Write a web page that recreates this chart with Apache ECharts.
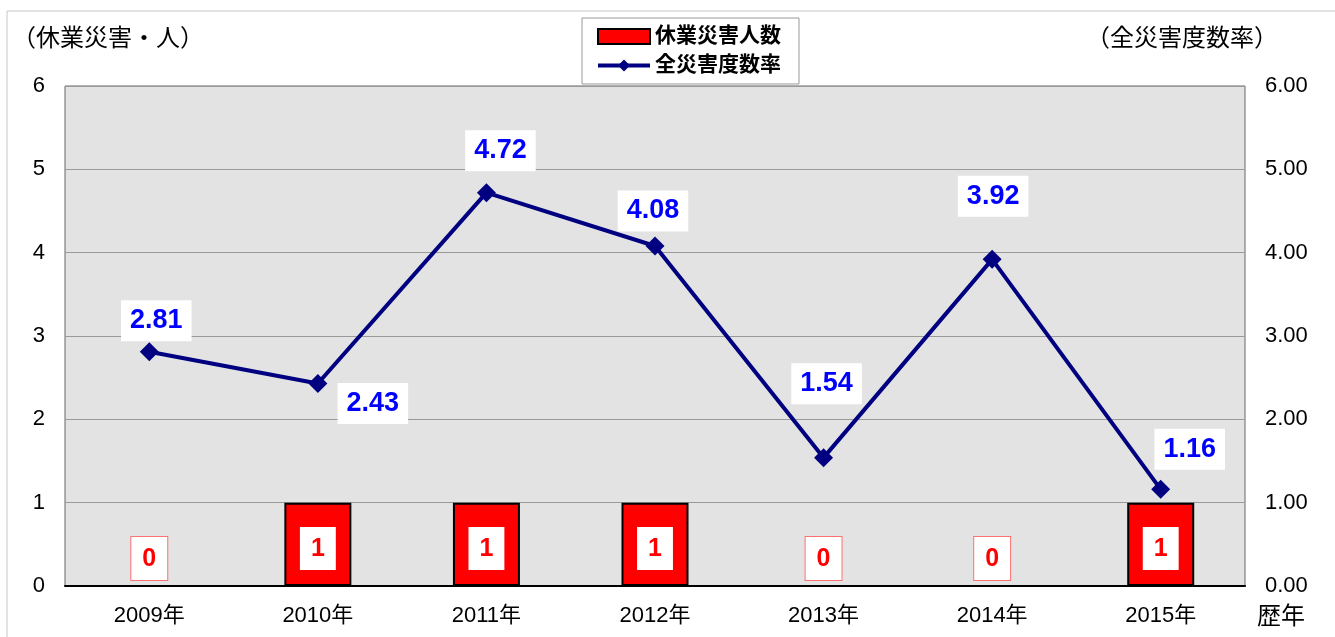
<!DOCTYPE html>
<html>
<head>
<meta charset="utf-8">
<script src="https://cdn.jsdelivr.net/npm/echarts@6/dist/echarts.min.js"></script>
<style>
  html, body { margin: 0; padding: 0; background: #fff; }
  #main { width: 1335px; height: 637px; }
</style>
</head>
<body>
<div id="main"></div>
<script>
// data
const years = ['2009年', '2010年', '2011年', '2012年', '2013年', '2014年', '2015年'];
const injuries = [0, 1, 1, 1, 0, 0, 1];          // 休業災害人数
const rates = [2.81, 2.43, 4.72, 4.08, 1.54, 3.92, 1.16];  // 全災害度数率
// where each rate label sits relative to its point [dx, dy]
const rateLabelOffsets = [[7, -31], [55, 20], [14, -42], [-2, -35], [3, -74], [1, -63], [29, -40]];

const font = "'Liberation Sans', 'Noto Sans CJK JP', sans-serif";

let barData = injuries.map(v => {
    if (v === 0) {
        return {
            value: v,
            label: {
                position: 'insideBottom', distance: 7,
                borderColor: '#ff7070', borderWidth: 1
            }
        };
    }
    return { value: v, label: { position: 'insideBottom', distance: 16 } };
});

let lineData = rates.map((v, i) => ({
    value: v,
    label: { offset: rateLabelOffsets[i] }
}));

const option = {
    animation: false,
    textStyle: { fontFamily: font },
    grid: {
        left: 65, right: 90, top: 86, bottom: 51,
        show: true,
        backgroundColor: '#e3e3e3',
        borderColor: '#666',
        borderWidth: 1
    },
    legend: {
        orient: 'vertical',
        left: 582, top: 18,
        width: 218,
        padding: [8, 18, 8, 14],
        itemGap: 8,
        itemWidth: 52, itemHeight: 15,
        backgroundColor: '#fff',
        borderColor: '#999', borderWidth: 1,
        textStyle: { fontSize: 21, fontWeight: 'bold', color: '#000', fontFamily: font },
        data: [
            { name: '休業災害人数', icon: 'rect', itemStyle: { color: '#ff0000', borderColor: '#000', borderWidth: 2 } },
            { name: '全災害度数率', lineStyle: { width: 4 } }
        ]
    },
    xAxis: {
        type: 'category',
        data: years,
        axisLine: { lineStyle: { color: '#000', width: 2 } },
        axisTick: { show: false },
        axisLabel: { fontSize: 22, color: '#000', margin: 19 }
    },
    yAxis: [
        {
            type: 'value', min: 0, max: 6, interval: 1,
            axisLine: { show: false },
            axisTick: { show: false },
            splitLine: { lineStyle: { color: '#999', width: 1 } },
            axisLabel: { fontSize: 22, color: '#000', margin: 20 }
        },
        {
            type: 'value', min: 0, max: 6, interval: 1,
            axisLine: { show: false },
            axisTick: { show: false },
            splitLine: { show: false },
            axisLabel: { fontSize: 22, color: '#000', margin: 20, formatter: v => v.toFixed(2) }
        }
    ],
    graphic: [
        { type: 'polyline', shape: { points: [[7, 637], [7, 11], [1335, 11]] }, style: { stroke: '#c8c8c8', lineWidth: 1, fill: null } },
        { type: 'text', left: 12, top: 27, style: { text: '（休業災害・人）', font: '24px ' + font, fill: '#000' } },
        { type: 'text', left: 1086, top: 27, style: { text: '（全災害度数率）', font: '24px ' + font, fill: '#000' } },
        { type: 'text', left: 1257, top: 605, style: { text: '歴年', font: '24px ' + font, fill: '#000' } }
    ],
    series: [
        {
            name: '休業災害人数',
            type: 'bar',
            yAxisIndex: 0,
            barWidth: 67,
            itemStyle: { color: '#ff0000', borderColor: '#000', borderWidth: 2 },
            label: {
                show: true,
                color: '#ff0000',
                fontSize: 25,
                fontWeight: 'bold',
                backgroundColor: '#fff',
                padding: [10, 11, 8, 11]
            },
            data: barData,
            z: 2
        },
        {
            name: '全災害度数率',
            type: 'line',
            yAxisIndex: 1,
            symbol: 'diamond',
            symbolSize: 19,
            lineStyle: { color: '#000080', width: 4 },
            itemStyle: { color: '#000080' },
            label: {
                show: true,
                position: 'inside',
                color: '#0000ff',
                fontSize: 27,
                fontWeight: 'bold',
                backgroundColor: '#fff',
                padding: [8, 9, 6, 9],
                formatter: p => p.value.toFixed(2)
            },
            data: lineData,
            z: 3
        }
    ]
};

let chart = echarts.init(document.querySelector('#main'));
chart.setOption(option);
</script>
</body>
</html>
